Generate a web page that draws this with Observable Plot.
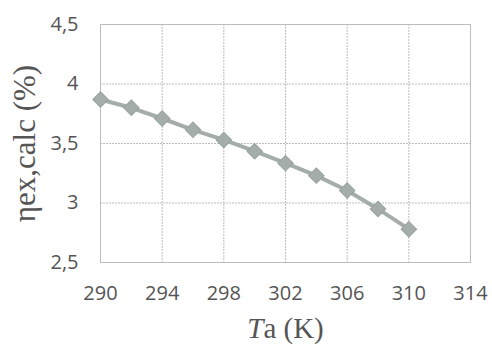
<!DOCTYPE html>
<html>
<head>
<meta charset="utf-8">
<script src="https://cdn.jsdelivr.net/npm/d3@7"></script>
<script src="https://cdn.jsdelivr.net/npm/@observablehq/plot@0.6"></script>
<style>
  html, body { margin: 0; padding: 0; background: #fff; }
</style>
</head>
<body>
<div id="chart"></div>
<script>
const temperatures = [290, 292, 294, 296, 298, 300, 302, 304, 306, 308, 310];
const efficiency = [3.87, 3.80, 3.71, 3.615, 3.53, 3.435, 3.335, 3.23, 3.105, 2.95, 2.78];
const xTicks = [290, 294, 298, 302, 306, 310, 314];
const yTicks = [2.5, 3, 3.5, 4, 4.5];
const yLabel = "ηex,calc (%)";
const xLabel = "Ta (K)";

const data = temperatures.map((t, i) => ({t, v: efficiency[i]}));
const fmt = d => String(d).replace(".", ",");
const gray = "#a5adab";
const gridColor = "#bdbdbd";

const plot = Plot.plot({
  width: 492,
  height: 347,
  marginLeft: 100,
  marginRight: 22,
  marginTop: 24,
  marginBottom: 85,
  style: {background: "#fff", overflow: "visible"},
  x: {domain: [290, 314]},
  y: {domain: [2.5, 4.5]},
  marks: [
    Plot.gridX(xTicks, {stroke: gridColor, strokeOpacity: 1, strokeDasharray: "2,1"}),
    Plot.gridY(yTicks, {stroke: gridColor, strokeOpacity: 1, strokeDasharray: "2,1"}),
    Plot.frame({stroke: gridColor}),
    Plot.axisX(xTicks, {tickSize: 0, tickPadding: 23, tickFormat: d => String(d), fontSize: 20, fontFamily: "Open Sans", fill: "#555", label: null}),
    Plot.axisY(yTicks, {tickSize: 0, tickPadding: 22, tickFormat: fmt, fontSize: 20, fontFamily: "Open Sans", fill: "#555", label: null}),
    Plot.line(data, {x: "t", y: "v", stroke: gray, strokeWidth: 4}),
    Plot.dot(data, {x: "t", y: "v", symbol: "square", r: 6.2, rotate: 45, fill: gray, stroke: "#9aa3a1", strokeWidth: 1}),
    Plot.text([yLabel], {frameAnchor: "left", dx: -75, rotate: -90, textAnchor: "middle", lineAnchor: "middle", fontSize: 31, fontFamily: "Liberation Serif", fill: "#555"}),
    Plot.text([xLabel], {frameAnchor: "bottom", dy: 66, textAnchor: "middle", fontSize: 29, fontFamily: "Liberation Serif", fill: "#555", lineAnchor: "middle", className: "xlab"})
  ]
});
document.getElementById("chart").appendChild(plot);

// Italicize the "T" in the x label
d3.select(plot).selectAll("g.xlab text").each(function() {
  const el = d3.select(this);
  const txt = el.text();
  el.text(null);
  el.append("tspan").attr("font-style", "italic").text(txt.slice(0, 1));
  el.append("tspan").text(txt.slice(1));
});
</script>
</body>
</html>
